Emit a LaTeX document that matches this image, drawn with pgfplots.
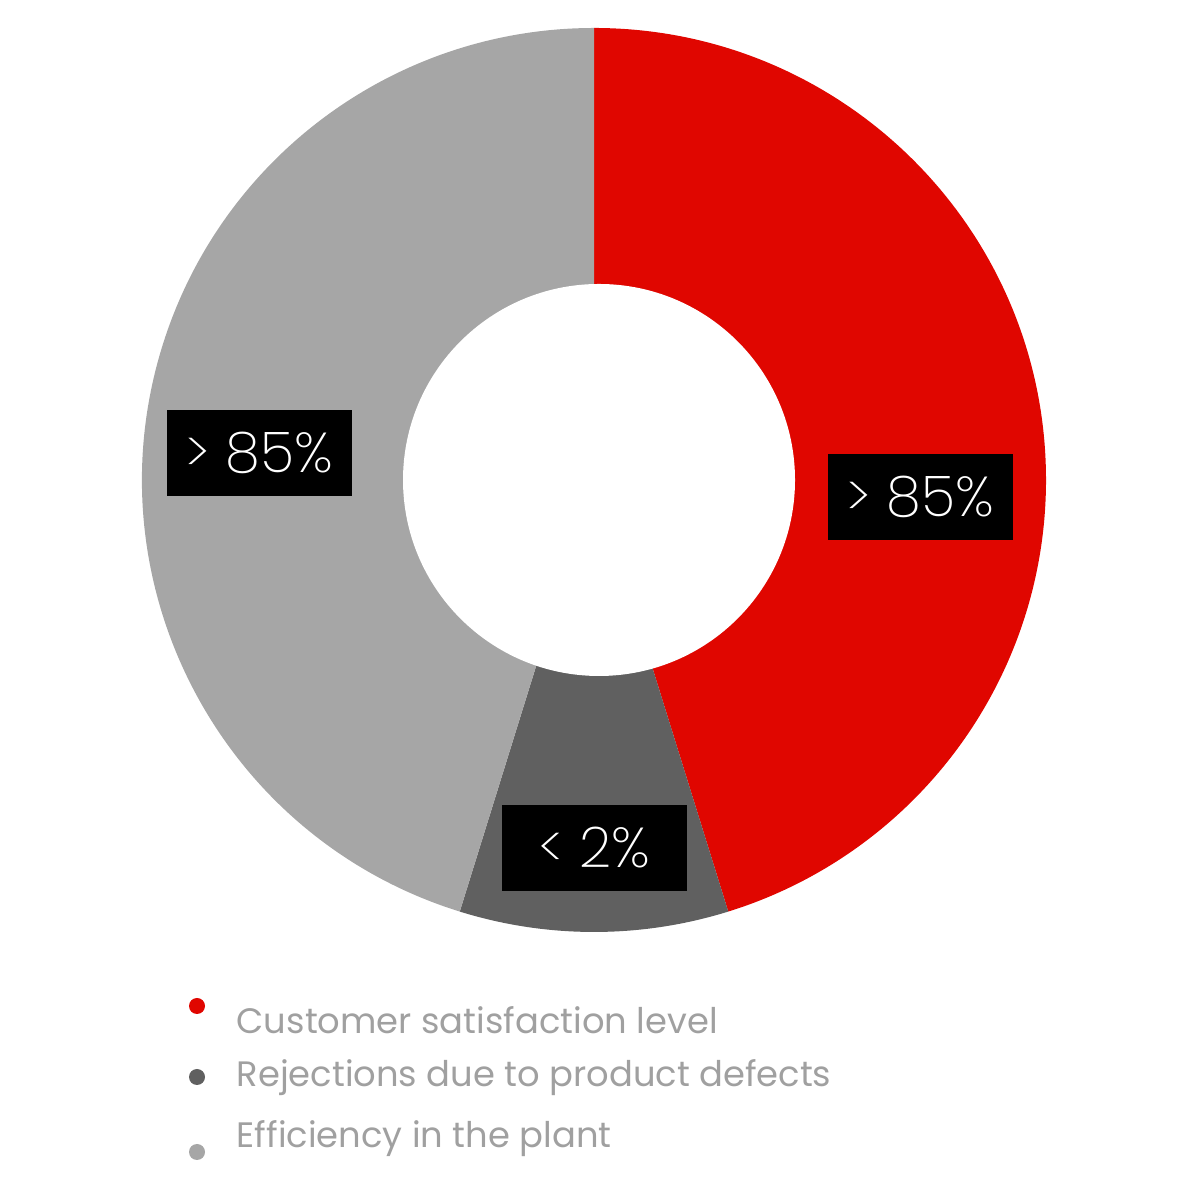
\documentclass[border=0pt]{standalone}
\usepackage{pgfplots}
\pgfplotsset{compat=1.18}
\usepackage{pgfplotstable}
\usepackage{fontspec}
\setmainfont{Poppins}
\newfontfamily\thinfont{Poppins ExtraLight}
\definecolor{cRed}{RGB}{224,6,0}
\definecolor{cDark}{RGB}{96,96,96}
\definecolor{cLight}{RGB}{166,166,166}
\definecolor{cText}{RGB}{160,160,160}
\pgfplotstableread{
label value
Customer 45.2
Rejections 9.6
Efficiency 45.2
}\datatable
\pgfplotstablegetelem{0}{value}\of\datatable\let\va\pgfplotsretval
\pgfplotstablegetelem{1}{value}\of\datatable\let\vb\pgfplotsretval
\pgfplotstablegetelem{2}{value}\of\datatable\let\vc\pgfplotsretval
\pgfmathsetmacro\total{\va+\vb+\vc}
\pgfmathsetmacro\aA{90}
\pgfmathsetmacro\aB{\aA-360*\va/\total}
\pgfmathsetmacro\aC{\aB-360*\vb/\total}
\pgfmathsetmacro\aD{\aC-360*\vc/\total}
\def\Ro{4.52}
\def\Ri{1.96}
\newcommand\sector[3]{%
  \fill[#1] (axis cs:0,0) -- (axis cs:{\Ro*cos(#2)},{\Ro*sin(#2)}) arc[start angle=#2, end angle=#3, radius=\Ro cm] -- cycle;}
\begin{document}%
\begin{tikzpicture}
\begin{axis}[
  x=1cm, y=1cm,
  xmin=-5.94, xmax=6.07, ymin=-7.21, ymax=4.80,
  hide axis, clip=false,
]
\path (axis cs:-5.94,-7.21) rectangle (axis cs:6.07,4.80);
\sector{cRed}{\aA}{\aB}
\sector{cDark}{\aB}{\aC}
\sector{cLight}{\aC}{\aD}
\fill[white] (axis cs:0.05,0) circle[radius=\Ri cm];
% value labels
\tikzset{lbl/.style={fill=black, text=white, minimum width=1.85cm, minimum height=0.86cm, inner sep=0pt, font=\thinfont\fontsize{16}{19}\selectfont}}
\node[lbl] at (axis cs:-3.35,0.27) {> 85\%};
\node[lbl] at (axis cs:3.26,-0.17) {> 85\%};
\node[lbl] at (axis cs:0.005,-3.68) {< 2\%};
% legend
\fill[cRed] (axis cs:-3.97,-5.26) circle[radius=0.08cm];
\fill[cDark] (axis cs:-3.97,-5.97) circle[radius=0.08cm];
\fill[cLight] (axis cs:-3.97,-6.72) circle[radius=0.08cm];
\tikzset{leg/.style={anchor=base west, inner sep=0pt, text=cText, font=\fontsize{10.05}{12}\selectfont}}
\node[leg] at (axis cs:-3.58,-5.54) {Customer satisfaction level};
\node[leg] at (axis cs:-3.58,-6.07) {Rejections due to product defects};
\node[leg] at (axis cs:-3.58,-6.68) {Efficiency in the plant};
\end{axis}
\end{tikzpicture}%
\end{document}
